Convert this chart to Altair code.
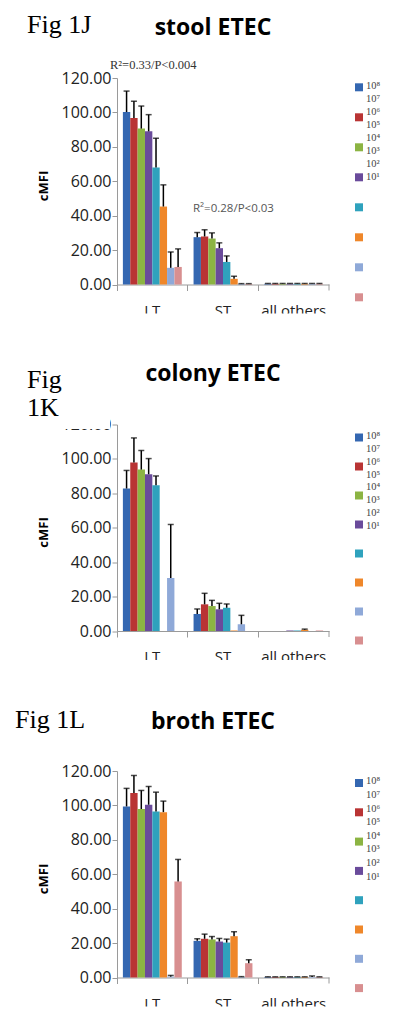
import altair as alt
import pandas as pd

categories = ["LT", "ST", "all others"]
series = ["10⁸", "10⁷", "10⁶", "10⁵", "10⁴", "10³", "10²", "10¹"]
colors = ["#3467B1", "#B93434", "#8CB443", "#6A4B9B", "#2FA2BD", "#EF872A", "#8FA9D8", "#D88F90"]
legend_labels = ["10⁸", "10⁷", "10⁶", "10⁵", "10⁴", "10³", "10²", "10¹"]
y_ticks = [0, 20, 40, 60, 80, 100, 120]

# stool ETEC
stool_lt = [100.2, 96.8, 90.6, 89.0, 68.0, 45.3, 9.7, 10.2]
stool_lt_err = [12.2, 9.7, 13.1, 9.7, 17.0, 12.6, 9.2, 10.5]
stool_st = [27.5, 27.9, 26.7, 21.1, 13.1, 3.3, 0.3, 0.3]
stool_st_err = [2.7, 3.9, 3.3, 3.1, 3.5, 1.5, 0.2, 0.2]
stool_oth = [0.4, 0.4, 0.4, 0.4, 0.4, 0.4, 0.4, 0.4]
stool_oth_err = [0.2, 0.2, 0.2, 0.2, 0.2, 0.2, 0.2, 0.2]

# colony ETEC
colony_lt = [82.8, 97.9, 93.8, 91.1, 84.7, 0.0, 30.8, 0.0]
colony_lt_err = [10.5, 14.3, 11.1, 9.1, 5.4, 0.0, 31.1, 0.0]
colony_st = [9.9, 15.5, 14.5, 12.6, 13.5, 0.3, 3.9, 0.0]
colony_st_err = [2.9, 6.4, 3.3, 3.5, 2.2, 0.0, 5.2, 0.0]
colony_oth = [0.0, 0.0, 0.0, 0.3, 0.3, 0.7, 0.0, 0.3]
colony_oth_err = [0.0, 0.0, 0.0, 0.0, 0.0, 0.4, 0.0, 0.0]

# broth ETEC
broth_lt = [99.4, 107.2, 97.9, 100.4, 96.5, 96.1, 0.5, 55.8]
broth_lt_err = [10.5, 10.2, 10.8, 10.6, 11.2, 6.4, 0.7, 12.8]
broth_st = [21.3, 22.5, 22.1, 20.9, 20.3, 24.0, 0.3, 8.3]
broth_st_err = [1.2, 2.7, 1.7, 1.8, 2.0, 2.6, 0.2, 2.0]
broth_oth = [0.3, 0.3, 0.3, 0.3, 0.3, 0.3, 0.3, 0.3]
broth_oth_err = [0.1, 0.1, 0.1, 0.1, 0.1, 0.1, 0.6, 0.1]

W = 212
H = 206.5
SANS = "Open Sans"
SERIF = "Liberation Serif"
GRAY = "#9a9a9a"

one = pd.DataFrame({"k": [0]})


def txt(s, x, y, **kw):
    return alt.Chart(one).mark_text(**kw).encode(
        x=alt.value(x), y=alt.value(y), text=alt.value(s)
    )


def box(x, x2, y, y2, **kw):
    return alt.Chart(one).mark_rect(**kw).encode(
        x=alt.value(x), x2=alt.value(x2), y=alt.value(y), y2=alt.value(y2)
    )


def make_panel(vals, errs, fig_lines, title, title_y, sq_y0, sq_step, lab_y0, lab_step,
               extra=None, cover_top=False, anchor=False):
    rows = []
    for cat, vs, es in zip(categories, vals, errs):
        for s, v, e in zip(series, vs, es):
            rows.append({"cat": cat, "s": s, "v": v, "e": e, "t": v + e})
    df = pd.DataFrame(rows)

    xenc = alt.X(
        "cat:N", sort=categories,
        scale=alt.Scale(domain=categories, paddingInner=0, paddingOuter=0),
        axis=alt.Axis(title=None, labels=False, bandPosition=0, domainColor=GRAY,
                      tickColor=GRAY, tickSize=6, grid=False),
    )
    xoff = alt.XOffset("s:N", sort=series,
                       scale=alt.Scale(domain=series, paddingInner=0, paddingOuter=0.8))
    yscale = alt.Scale(domain=[0, 120], nice=False)
    yaxis = alt.Axis(values=y_ticks, format=".2f", title="cMFI", titleFont=SANS,
                     titleFontSize=13, titleFontWeight="bold", titleColor="#000",
                     titleX=-74, titleY=107.5, titleAngle=-90, titleAlign="center",
                     titleBaseline="middle", labelFont=SANS, labelFontSize=16,
                     labelColor="#222", labelPadding=1, labelOverlap=False,
                     domainColor=GRAY, tickColor=GRAY, tickSize=5, grid=False)
    cscale = alt.Scale(domain=series, range=colors)

    base = alt.Chart(df).encode(x=xenc, xOffset=xoff)
    bars = base.mark_bar().encode(
        y=alt.Y("v:Q", scale=yscale, axis=yaxis),
        color=alt.Color("s:N", scale=cscale, legend=None),
    )
    ebase = base.transform_filter("datum.e > 0")
    erule = ebase.mark_rule(color="black", strokeWidth=1.5).encode(
        y=alt.Y("v:Q", scale=yscale, axis=yaxis), y2="t:Q")
    ecap = ebase.mark_tick(color="black", thickness=1.5, size=6).encode(
        y=alt.Y("t:Q", scale=yscale, axis=yaxis))

    endtick = alt.Chart(one).mark_rule(color=GRAY).encode(
        x=alt.value(W), y=alt.value(H), y2=alt.value(H + 6))

    cat_df = pd.DataFrame({"cat": categories})
    cat_labels = alt.Chart(cat_df).mark_text(
        font=SANS, fontSize=15, color="#222", baseline="alphabetic"
    ).encode(x=alt.X("cat:N", sort=categories), y=alt.value(H + 31.4), text="cat:N")
    cover = box(-30, W + 30, H + 29, H + 46, color="white")

    leg_df = pd.DataFrame({"s": series, "i": list(range(len(series)))})
    leg_sq = alt.Chart(leg_df).transform_calculate(
        py=f"{sq_y0} + datum.i * {sq_step}"
    ).mark_square(size=64, opacity=1).encode(
        x=alt.value(242), y=alt.Y("py:Q", scale=None),
        color=alt.Color("s:N", scale=cscale, legend=None))
    lab_df = pd.DataFrame({"lab": legend_labels, "i": list(range(len(legend_labels)))})
    leg_lab = alt.Chart(lab_df).transform_calculate(
        py=f"{lab_y0} + datum.i * {lab_step}"
    ).mark_text(font=SERIF, fontSize=10.5, color="#444", align="left",
                baseline="middle").encode(
        x=alt.value(249), y=alt.Y("py:Q", scale=None), text="lab:N")

    layers = [bars, erule, ecap, endtick, cat_labels, cover, leg_sq, leg_lab]
    if cover_top:
        layers.append(box(-75, -7, -14, 4.6, color="white"))
    for (s, x, y) in fig_lines:
        layers.append(txt(s, x, y, font=SERIF, fontSize=26, color="#000",
                          align="left", baseline="alphabetic"))
    layers.append(txt(title, 96, title_y, font=SANS, fontSize=23, fontWeight="bold",
                      color="#000", align="center", baseline="alphabetic"))
    if extra:
        layers.extend(extra)
    if anchor:
        layers.append(box(-109, -108, -69.7, -68.7, opacity=0))
    return alt.layer(*layers).properties(width=W, height=H)


p1 = make_panel(
    [stool_lt, stool_st, stool_oth], [stool_lt_err, stool_st_err, stool_oth_err],
    [("Fig 1J", -90, -44.7)], "stool ETEC", -42.7, 9.3, 30, 8.3, 13,
    extra=[
        txt("R²=0.33/P<0.004", -7, -12.7, font=SERIF, fontSize=12.5, color="#333",
            align="left", baseline="middle"),
        txt("R²=0.28/P<0.03", 76, 131.3, font=SANS, fontSize=11.5, color="#555",
            align="left", baseline="middle"),
    ],
    anchor=True,
)
p2 = make_panel(
    [colony_lt, colony_st, colony_oth], [colony_lt_err, colony_st_err, colony_oth_err],
    [("Fig", -90, -36.7), ("1K", -90, -8.7)], "colony ETEC", -43.7, 13, 29, 11.3, 12.9,
    cover_top=True,
)
p3 = make_panel(
    [broth_lt, broth_st, broth_oth], [broth_lt_err, broth_st_err, broth_oth_err],
    [("Fig 1L", -102, -43)], "broth ETEC", -42, 12, 29.3, 10.3, 13.6,
)

chart = alt.vconcat(p1, p2, p3, spacing=139.5, bounds="flush").properties(
    padding=0
).configure_view(stroke=None).configure_axis(grid=False)

chart.save("out.html", embed_options={"renderer": "svg", "actions": False})
